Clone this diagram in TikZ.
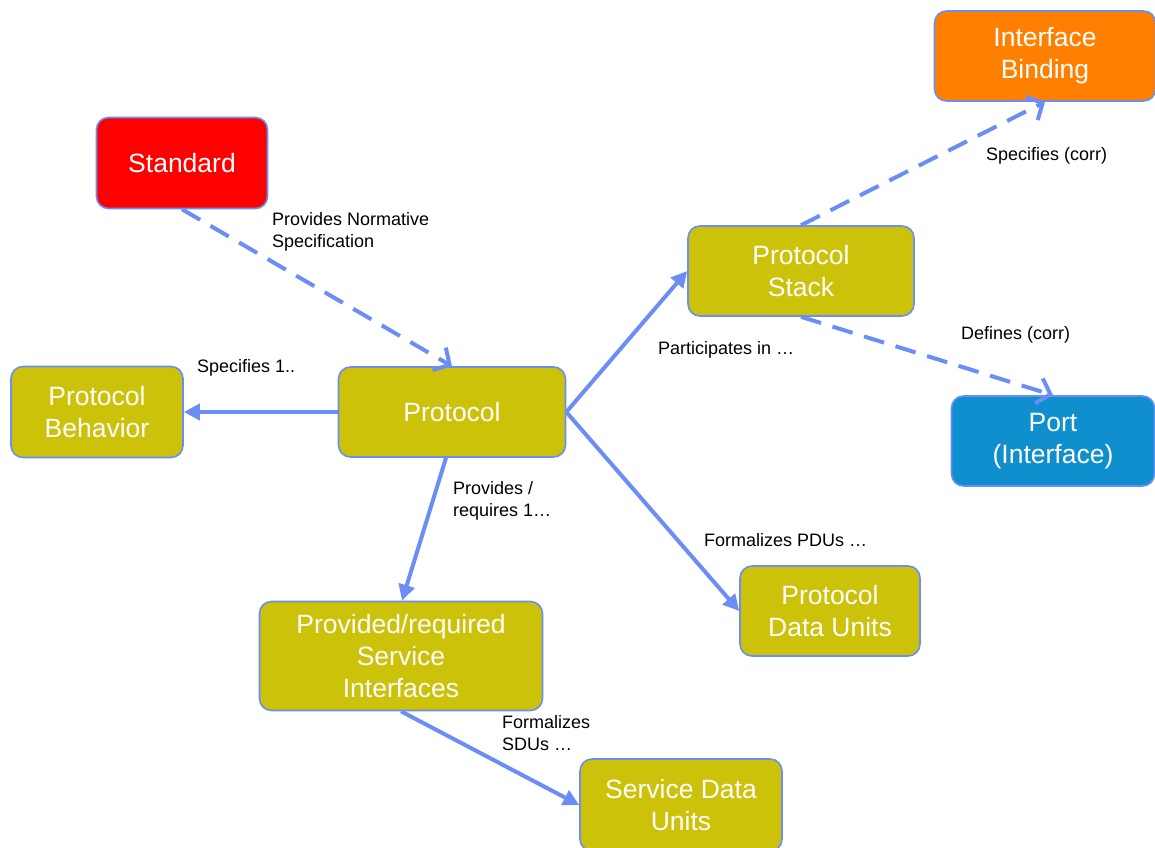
\documentclass[tikz,border=0pt]{standalone}
\usepackage{fontspec}
\setmainfont{Liberation Sans}
\usetikzlibrary{positioning,arrows.meta}
\definecolor{boxolive}{HTML}{CCC20A}
\definecolor{boxred}{HTML}{FF0000}
\definecolor{boxorange}{HTML}{FF7F00}
\definecolor{boxblue}{HTML}{108FCE}
\definecolor{linkblue}{HTML}{6A8EF5}
\tikzset{
    every node/.style={font=\fontsize{18}{22}\selectfont},
    concept/.style={rounded corners=12pt,draw=linkblue,line width=1.6pt,fill=boxolive,
        text=white,align=center,inner sep=2pt,font=\fontsize{26.5}{32}\selectfont},
    linklabel/.style={anchor=north west,align=left,inner sep=0pt},
    uses/.style={draw=linkblue,line width=4pt,-{Triangle[length=16pt,width=16pt]}},
    specs/.style={draw=linkblue,line width=4pt,dash pattern=on 21pt off 12pt,
        -{Straight Barb[length=12pt,width=26pt]}}
}
\begin{document}
\begin{tikzpicture}[x=1pt,y=-1pt]
\useasboundingbox (0,0) rectangle (1155,847);
% concepts
\node[concept,fill=boxred,minimum width=171pt,minimum height=91pt] (standard) at (182,163) {Standard};
\node[concept,fill=boxorange,minimum width=221pt,minimum height=90pt] (binding) at (1045,56) {Interface\\Binding};
\node[concept,minimum width=226pt,minimum height=90pt] (stack) at (801,271) {Protocol\\Stack};
\node[concept,minimum width=227pt,minimum height=90pt] (protocol) at (452,412) {Protocol};
\node[concept,minimum width=172pt,minimum height=91pt] (behavior) at (97,412) {Protocol\\Behavior};
\node[concept,fill=boxblue,minimum width=203pt,minimum height=90pt] (port) at (1053,441) {Port\\(Interface)};
\node[concept,minimum width=180pt,minimum height=90pt] (pdu) at (830,611) {Protocol\\Data Units};
\node[concept,minimum width=283pt,minimum height=109pt] (interfaces) at (401,656) {Provided/required\\Service\\Interfaces};
\node[concept,minimum width=202pt,minimum height=92pt] (sdu) at (681,805) {Service Data\\Units};
% relations
\draw[specs] (standard.south) -- (protocol.north);
\draw[uses] (protocol.west) -- (behavior.east);
\draw[uses] ([xshift=-6pt]protocol.south) -- ([xshift=1pt]interfaces.north);
\draw[uses] (protocol.east) -- (stack.west);
\draw[uses] (protocol.east) -- (pdu.west);
\draw[uses] (interfaces.south) -- (sdu.west);
\draw[specs] (stack.north) -- (binding.south);
\draw[specs] (stack.south) -- (port.north);
% labels
\node[linklabel] (lblnorm) at (272,212) {Provides Normative\\Specification};
\node[linklabel] (lblbeh) at (197,359) {Specifies 1..};
\node[linklabel] (lblreq) at (453,481) {Provides /\\requires 1…};
\node[linklabel] (lblpart) at (658,341) {Participates in …};
\node[linklabel] (lbldef) at (961,326) {Defines (corr)};
\node[linklabel] (lblbind) at (986,147) {Specifies (corr)};
\node[linklabel] (lblpdu) at (704,533) {Formalizes PDUs …};
\node[linklabel] (lblsdu) at (502,715) {Formalizes\\SDUs …};
\end{tikzpicture}
\end{document}
